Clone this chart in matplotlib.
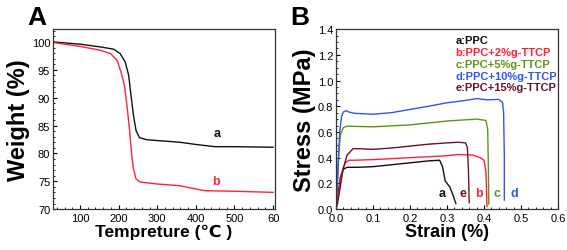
import matplotlib
matplotlib.use("Agg")
import matplotlib.pyplot as plt
from matplotlib.ticker import MultipleLocator, FixedLocator

plt.rcParams["font.family"] = ["Liberation Sans", "DejaVu Sans"]

# ─── Panel A: TGA curves ─────────────────────────────────────
tga_a_temp = [30, 100, 153, 187, 204, 217, 226, 232, 238.5, 245, 254, 273, 300, 358, 400, 450, 500, 600]
tga_a_wt   = [100, 99.6, 99.1, 98.7, 97.9, 96.4, 94.0, 90.4, 86.8, 84.1, 82.8, 82.45, 82.3, 82.0, 81.6, 81.2, 81.2, 81.1]
tga_b_temp = [30, 100, 153, 179, 196, 206, 215, 221.5, 228, 234, 238.5, 245, 255.6, 300, 358, 400, 425, 500, 600]
tga_b_wt   = [99.9, 99.2, 98.5, 97.9, 96.7, 94.6, 92.2, 88.6, 84.4, 79.6, 77.2, 75.4, 74.85, 74.5, 74.2, 73.6, 73.3, 73.2, 73.0]

# ─── Panel B: stress-strain curves ───────────────────────────
ss_a_x = [0, 0.005, 0.012, 0.02, 0.03, 0.06, 0.1, 0.15, 0.2, 0.25, 0.28, 0.288, 0.295, 0.308, 0.316, 0.322, 0.324]
ss_a_y = [0, 0.10, 0.25, 0.31, 0.325, 0.325, 0.33, 0.345, 0.36, 0.375, 0.38, 0.33, 0.22, 0.17, 0.11, 0.06, 0.045]
ss_b_x = [0, 0.006, 0.015, 0.025, 0.035, 0.05, 0.1, 0.2, 0.3, 0.33, 0.37, 0.39, 0.40, 0.405, 0.407, 0.408]
ss_b_y = [0, 0.10, 0.28, 0.36, 0.38, 0.38, 0.385, 0.40, 0.415, 0.425, 0.42, 0.40, 0.38, 0.30, 0.15, 0.02]
ss_c_x = [0, 0.004, 0.008, 0.012, 0.02, 0.03, 0.1, 0.2, 0.3, 0.38, 0.405, 0.41, 0.412, 0.413]
ss_c_y = [0, 0.20, 0.45, 0.58, 0.635, 0.645, 0.64, 0.655, 0.685, 0.70, 0.69, 0.62, 0.30, 0.04]
ss_d_x = [0, 0.004, 0.01, 0.015, 0.02, 0.027, 0.035, 0.05, 0.1, 0.15, 0.2, 0.25, 0.3, 0.35, 0.38, 0.41, 0.44, 0.45, 0.453, 0.455, 0.455]
ss_d_y = [0, 0.25, 0.60, 0.72, 0.755, 0.765, 0.755, 0.745, 0.738, 0.75, 0.775, 0.80, 0.827, 0.845, 0.86, 0.85, 0.853, 0.83, 0.75, 0.40, 0.07]
ss_e_x = [0, 0.005, 0.012, 0.019, 0.03, 0.046, 0.06, 0.1, 0.15, 0.2, 0.25, 0.3, 0.33, 0.35, 0.355, 0.358, 0.36]
ss_e_y = [0, 0.06, 0.18, 0.31, 0.42, 0.47, 0.47, 0.465, 0.475, 0.49, 0.505, 0.515, 0.52, 0.515, 0.48, 0.30, 0.05]

ss_labels = ["a:PPC", "b:PPC+2%g-TTCP", "c:PPC+5%g-TTCP", "d:PPC+10%g-TTCP", "e:PPC+15%g-TTCP"]
ss_colors = ["#111111", "#ff2038", "#5f9418", "#2f55f5", "#6e1024"]
ss_tags = ["a", "e", "b", "c", "d"]
ss_tag_x = [0.288, 0.342, 0.387, 0.434, 0.483]
ss_tag_colors = ["#111111", "#6e1024", "#ff2038", "#5f9418", "#2f55f5"]

fig = plt.figure(figsize=(5.67, 2.51), dpi=100)
axA = fig.add_axes([0.0935, 0.163, 0.3915, 0.717])
axB = fig.add_axes([0.5926, 0.163, 0.3915, 0.717])

# Panel A
axA.plot(tga_a_temp, tga_a_wt, color="#111111", lw=1.0)
axA.plot(tga_b_temp, tga_b_wt, color="#ff2038", lw=1.0)
axA.text(454, 83.6, "a", color="#111111", fontsize=9, fontweight="bold", ha="center", va="center")
axA.text(452, 75.1, "b", color="#ff2038", fontsize=9, fontweight="bold", ha="center", va="center")
axA.set_xlim(30, 605)
axA.set_ylim(70, 102.3)
axA.xaxis.set_major_locator(FixedLocator([100, 200, 300, 400, 500, 600]))
axA.set_xticklabels(["100", "200", "300", "400", "500", "60"])
axA.yaxis.set_major_locator(MultipleLocator(5))
axA.set_xlabel("Tempreture (℃ )", fontsize=12.5, fontweight="bold", labelpad=0)
axA.set_ylabel("Weight (%)", fontsize=17, fontweight="bold", labelpad=1)

# Panel B
for xs, ys, c in zip([ss_a_x, ss_b_x, ss_c_x, ss_d_x, ss_e_x],
                     [ss_a_y, ss_b_y, ss_c_y, ss_d_y, ss_e_y],
                     ss_colors):
    axB.plot(xs, ys, color=c, lw=1.0)
for i, (lab, c) in enumerate(zip(ss_labels, ss_colors)):
    axB.text(0.322, 1.318 - i * 0.093, lab, color=c, fontsize=8, fontweight="bold",
             ha="left", va="center")
for t, x, c in zip(ss_tags, ss_tag_x, ss_tag_colors):
    axB.text(x, 0.124, t, color=c, fontsize=9, fontweight="bold", ha="center", va="center")
axB.set_xlim(0, 0.6)
axB.set_ylim(0, 1.4)
axB.xaxis.set_major_locator(MultipleLocator(0.1))
axB.yaxis.set_major_locator(MultipleLocator(0.2))
axB.xaxis.set_major_formatter(plt.FuncFormatter(lambda v, p: f"{v:.1f}"))
axB.yaxis.set_major_formatter(plt.FuncFormatter(lambda v, p: f"{v:.1f}"))
axB.set_xlabel("Strain (%)", fontsize=13, fontweight="bold", labelpad=0)
axB.set_ylabel("Stress (MPa)", fontsize=17, fontweight="bold", labelpad=1)

for ax in (axA, axB):
    ax.minorticks_on()
    ax.tick_params(which="major", direction="in", length=3, width=0.8, labelsize=8, pad=2)
    ax.tick_params(axis="x", which="major", pad=3)
    ax.tick_params(which="minor", direction="in", length=1.5, width=0.6)
    for s in ax.spines.values():
        s.set_linewidth(0.9)
        s.set_color("#333333")

fig.text(0.048, 0.975, "A", fontsize=19, fontweight="bold", ha="left", va="top")
fig.text(0.512, 0.975, "B", fontsize=19, fontweight="bold", ha="left", va="top")

fig.savefig("out.png", dpi=100)
